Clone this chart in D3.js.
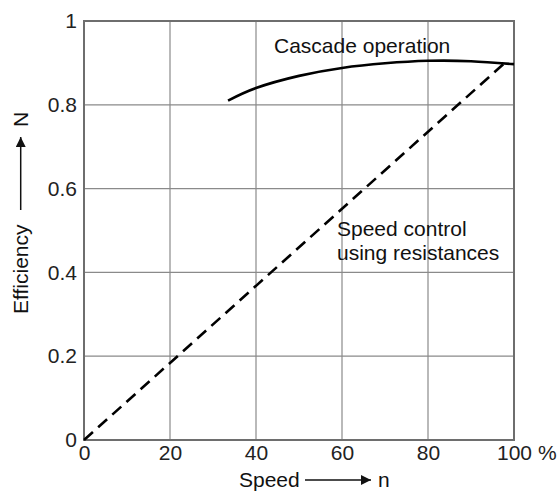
<!DOCTYPE html>
<html>
<head>
<meta charset="utf-8">
<script src="https://cdn.jsdelivr.net/npm/d3@7"></script>
<style>
  html, body { margin: 0; padding: 0; background: #fff; }
  svg { display: block; font-family: "Liberation Sans", Arial, sans-serif; }
</style>
</head>
<body>
<svg id="chart" width="557" height="491"></svg>
<script>
// ---- data ----
const xTicks = [0, 20, 40, 60, 80, 100];
const yTicks = [0, 0.2, 0.4, 0.6, 0.8, 1];
const cascadeSpeed = [33.5, 40, 50, 60, 70, 80, 90, 100];
const cascadeEff   = [0.810, 0.840, 0.869, 0.888, 0.899, 0.905, 0.904, 0.897];
const resistSpeed = [0, 98.4];
const resistEff   = [0, 0.905];
const labels = {
  cascade: "Cascade operation",
  resist1: "Speed control",
  resist2: "using resistances",
  xTitle: "Speed",
  xSym: "n",
  yTitle: "Efficiency",
  ySym: "N",
  unit: "%"
};

// ---- layout ----
const svg = d3.select("#chart");
const x = d3.scaleLinear().domain([0, 100]).range([84, 514]);
const y = d3.scaleLinear().domain([0, 1]).range([440, 21]);
const gridColor = "#8a8a8a";
const frameColor = "#6e6e6e";
const font = 21;
const ff = "Liberation Sans, Arial, sans-serif";

// gridlines
svg.append("g").selectAll("line.vg")
  .data(xTicks.filter(d => d > 0 && d < 100))
  .join("line")
  .attr("x1", d => x(d)).attr("x2", d => x(d))
  .attr("y1", y(0)).attr("y2", y(1))
  .attr("stroke", gridColor).attr("stroke-width", 1.2);
svg.append("g").selectAll("line.hg")
  .data(yTicks.filter(d => d > 0 && d < 1))
  .join("line")
  .attr("x1", x(0)).attr("x2", x(100))
  .attr("y1", d => y(d)).attr("y2", d => y(d))
  .attr("stroke", gridColor).attr("stroke-width", 1.2);

// frame
svg.append("rect")
  .attr("x", x(0)).attr("y", y(1))
  .attr("width", x(100) - x(0)).attr("height", y(0) - y(1))
  .attr("fill", "none").attr("stroke", frameColor).attr("stroke-width", 2);

// axes (labels only)
const yAxis = svg.append("g").attr("transform", `translate(${x(0)},0)`)
  .call(d3.axisLeft(y).tickValues(yTicks).tickSize(0).tickPadding(7)
        .tickFormat(d => d === 0 || d === 1 ? String(d) : d3.format(".1f")(d)));
yAxis.select(".domain").remove();
yAxis.selectAll("text").attr("font-size", font).attr("fill", "#222")
  .attr("font-family", ff);

const xAxis = svg.append("g").attr("transform", `translate(0,${y(0)})`)
  .call(d3.axisBottom(x).tickValues(xTicks).tickSize(0).tickPadding(5)
        .tickFormat(d3.format("d")));
xAxis.select(".domain").remove();
xAxis.selectAll("text").attr("font-size", font).attr("fill", "#222")
  .attr("font-family", ff);

svg.append("text")
  .attr("x", x(100) + 24).attr("y", y(0) + 5).attr("dy", "0.71em")
  .attr("font-size", font).attr("fill", "#222")
  .text(labels.unit);

// lines
svg.append("path")
  .datum(resistSpeed.map((s, i) => [s, resistEff[i]]))
  .attr("d", d3.line().x(d => x(d[0])).y(d => y(d[1])))
  .attr("fill", "none").attr("stroke", "#000").attr("stroke-width", 2.6)
  .attr("stroke-dasharray", "12,7");
svg.append("path")
  .datum(cascadeSpeed.map((s, i) => [s, cascadeEff[i]]))
  .attr("d", d3.line().x(d => x(d[0])).y(d => y(d[1])).curve(d3.curveNatural))
  .attr("fill", "none").attr("stroke", "#000").attr("stroke-width", 2.6);

// annotations
svg.append("text").attr("x", 274).attr("y", 53)
  .attr("font-size", font).attr("fill", "#111").text(labels.cascade);
svg.append("text").attr("x", 337).attr("y", 236)
  .attr("font-size", font).attr("fill", "#111").text(labels.resist1);
svg.append("text").attr("x", 337).attr("y", 260)
  .attr("font-size", font).attr("fill", "#111").text(labels.resist2);

// arrow marker
const defs = svg.append("defs");
defs.append("marker").attr("id", "arr")
  .attr("viewBox", "0 0 10 10").attr("refX", 10).attr("refY", 5)
  .attr("markerWidth", 10).attr("markerHeight", 10)
  .attr("markerUnits", "userSpaceOnUse")
  .attr("orient", "auto")
  .append("path").attr("d", "M0,0 L10,5 L0,10 Z").attr("fill", "#111");

// x title
svg.append("text").attr("x", 239).attr("y", 487)
  .attr("font-size", font).attr("fill", "#111").text(labels.xTitle);
svg.append("line").attr("x1", 305).attr("x2", 371).attr("y1", 480).attr("y2", 480)
  .attr("stroke", "#111").attr("stroke-width", 1.5).attr("marker-end", "url(#arr)");
svg.append("text").attr("x", 378).attr("y", 487)
  .attr("font-size", font).attr("fill", "#111").text(labels.xSym);

// y title (rotated)
const yt = svg.append("g").attr("transform", "translate(28,0) rotate(-90)");
yt.append("text").attr("x", -314).attr("y", 0)
  .attr("font-size", font).attr("fill", "#111").text(labels.yTitle);
yt.append("line").attr("x1", -210).attr("x2", -137).attr("y1", -7.3).attr("y2", -7.3)
  .attr("stroke", "#111").attr("stroke-width", 1.5).attr("marker-end", "url(#arr)");
yt.append("text").attr("x", -127).attr("y", 0)
  .attr("font-size", font).attr("fill", "#111").text(labels.ySym);
</script>
</body>
</html>
